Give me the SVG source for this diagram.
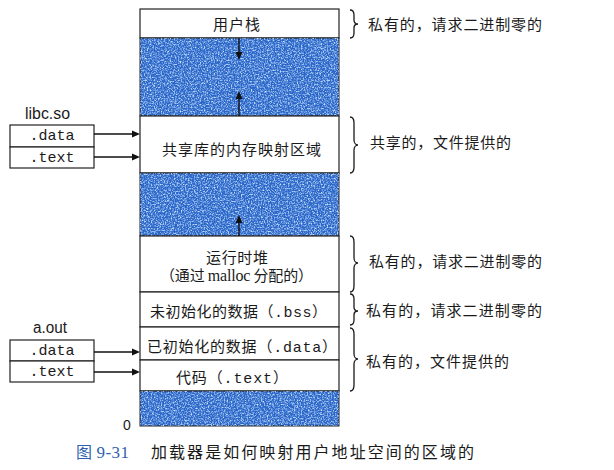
<svg xmlns="http://www.w3.org/2000/svg" width="614" height="470" viewBox="0 0 614 470">
<style>
.cjk{font-family:"Noto Sans CJK SC","Liberation Sans",sans-serif;font-size:15px;fill:#1a1a1a}
.mono{font-family:"Liberation Mono","DejaVu Sans Mono",monospace}
.lat{font-family:"Liberation Sans",Arial,sans-serif;fill:#1a1a1a}
.ser{font-family:"Liberation Serif",serif}
.box{fill:#fff;stroke:#222;stroke-width:1.2}
.blue{fill:#2a66c9;stroke:#222;stroke-width:1}
.brace{fill:none;stroke:#1a1a1a;stroke-width:1.3}
.line{stroke:#111;stroke-width:1.4;fill:none}
.head{fill:#111}
</style>
<defs>
<filter id="noise" x="0" y="0" width="1" height="1">
<feTurbulence type="fractalNoise" baseFrequency="0.7" numOctaves="3" seed="5" result="t"/>
<feColorMatrix in="t" type="matrix" values="0 0 0 0 0.62  0 0 0 0 0.8  0 0 0 0 1  2.4 0 0 0 -1.0"/>
</filter>
</defs>
<rect width="614" height="470" fill="#fff"/>

<g id="user-stack">
<rect class="box" x="140" y="9" width="199" height="29"/>
<text class="cjk" x="213" y="30" textLength="47" lengthAdjust="spacing">用户栈</text>
</g>
<g id="gap-1">
<rect class="blue" x="140" y="38" width="199" height="78"/>
<rect x="140" y="38" width="199" height="78" fill="#fff" filter="url(#noise)"/>
</g>
<g id="shared-libs">
<rect class="box" x="140" y="116" width="199" height="57"/>
<text class="cjk" x="162" y="155" textLength="159" lengthAdjust="spacing">共享库的内存映射区域</text>
</g>
<g id="gap-2">
<rect class="blue" x="140" y="173" width="199" height="63"/>
<rect x="140" y="173" width="199" height="63" fill="#fff" filter="url(#noise)"/>
</g>
<g id="heap">
<rect class="box" x="140" y="236" width="199" height="56"/>
<text class="cjk" x="206" y="263" textLength="62" lengthAdjust="spacing">运行时堆</text>
<text class="cjk" x="160" y="281" textLength="153" lengthAdjust="spacing">（通过 <tspan class="ser" font-size="16">malloc</tspan> 分配的）</text>
</g>
<g id="bss">
<rect class="box" x="140" y="292" width="199" height="35"/>
<text class="cjk" x="150" y="317" textLength="177" lengthAdjust="spacing">未初始化的数据（<tspan class="mono">.bss</tspan>）</text>
</g>
<g id="data">
<rect class="box" x="140" y="327" width="199" height="33"/>
<text class="cjk" x="147" y="352" textLength="190" lengthAdjust="spacing">已初始化的数据（<tspan class="mono">.data</tspan>）</text>
</g>
<g id="text-seg">
<rect class="box" x="140" y="360" width="199" height="31"/>
<text class="cjk" x="176" y="383" textLength="112" lengthAdjust="spacing">代码（<tspan class="mono">.text</tspan>）</text>
</g>
<g id="gap-3">
<rect class="blue" x="140" y="391" width="199" height="35"/>
<rect x="140" y="391" width="199" height="35" fill="#fff" filter="url(#noise)"/>
</g>
<text class="lat" x="123" y="430" font-size="14">0</text>

<g id="libc">
<text class="lat" x="25" y="119" font-size="16" textLength="45" lengthAdjust="spacingAndGlyphs">libc.so</text>
<rect class="box" x="10" y="125" width="84" height="22"/>
<rect class="box" x="10" y="147" width="84" height="21"/>
<text class="mono" x="52" y="140" font-size="15" text-anchor="middle" fill="#1a1a1a">.data</text>
<text class="mono" x="52" y="162" font-size="15" text-anchor="middle" fill="#1a1a1a">.text</text>
</g>
<g id="aout">
<text class="lat" x="33" y="333" font-size="16" textLength="34" lengthAdjust="spacingAndGlyphs">a.out</text>
<rect class="box" x="10" y="340" width="84" height="21"/>
<rect class="box" x="10" y="361" width="84" height="21"/>
<text class="mono" x="52" y="355" font-size="15" text-anchor="middle" fill="#1a1a1a">.data</text>
<text class="mono" x="52" y="376" font-size="15" text-anchor="middle" fill="#1a1a1a">.text</text>
</g>

<g id="connectors">
<line class="line" x1="94" y1="134" x2="133" y2="134"/>
<polygon class="head" points="140,134 132,130.5 132,137.5"/>
<line class="line" x1="94" y1="157" x2="133" y2="157"/>
<polygon class="head" points="140,157 132,153.5 132,160.5"/>
<line class="line" x1="94" y1="352" x2="133" y2="352"/>
<polygon class="head" points="140,352 132,348.5 132,355.5"/>
<line class="line" x1="94" y1="372" x2="133" y2="372"/>
<polygon class="head" points="140,372 132,368.5 132,375.5"/>
<line class="line" x1="239" y1="38" x2="239" y2="53"/>
<polygon class="head" points="239,60 235.5,52 242.5,52"/>
<line class="line" x1="239" y1="116" x2="239" y2="98"/>
<polygon class="head" points="239,91 235.5,99 242.5,99"/>
<line class="line" x1="239" y1="236" x2="239" y2="222"/>
<polygon class="head" points="239,215 235.5,223 242.5,223"/>
</g>

<g id="brace-1">
<path class="brace" d="M350,10 C353,10 354,12 354,15 L354,20 C354,23 356,24 358,24 C356,24 354,25 354,28 L354,33 C354,36 353,38 350,38"/>
<text class="cjk" x="368" y="30" textLength="174" lengthAdjust="spacing">私有的，请求二进制零的</text>
</g>
<g id="brace-2">
<path class="brace" d="M350,117 C353,117 354,119 354,123 L354,140 C354,143 356,145 358,145 C356,145 354,147 354,150 L354,167 C354,171 353,173 350,173"/>
<text class="cjk" x="370" y="148" textLength="141" lengthAdjust="spacing">共享的，文件提供的</text>
</g>
<g id="brace-3">
<path class="brace" d="M350,236 C353,236 354,238 354,242 L354,258 C354,261 356,263 358,263 C356,263 354,265 354,268 L354,286 C354,290 353,292 350,292"/>
<text class="cjk" x="369" y="267" textLength="173" lengthAdjust="spacing">私有的，请求二进制零的</text>
</g>
<g id="brace-4">
<path class="brace" d="M350,294 C353,294 354,296 354,299 L354,307 C354,310 356,311 358,311 C356,311 354,312 354,315 L354,320 C354,323 353,325 350,325"/>
<text class="cjk" x="366" y="316" textLength="176" lengthAdjust="spacing">私有的，请求二进制零的</text>
</g>
<g id="brace-5">
<path class="brace" d="M350,328 C353,328 354,330 354,334 L354,354 C354,357 356,359 358,359 C356,359 354,361 354,364 L354,385 C354,389 353,391 350,391"/>
<text class="cjk" x="366" y="367" textLength="143" lengthAdjust="spacing">私有的，文件提供的</text>
</g>

<g id="caption">
<text class="cjk" x="76" y="458" style="fill:#2f5fb0;font-size:16px" textLength="53" lengthAdjust="spacing">图 <tspan class="ser" font-size="17">9-31</tspan></text>
<text class="cjk" x="151" y="458" style="font-size:16px" textLength="323" lengthAdjust="spacing">加载器是如何映射用户地址空间的区域的</text>
</g>
</svg>
